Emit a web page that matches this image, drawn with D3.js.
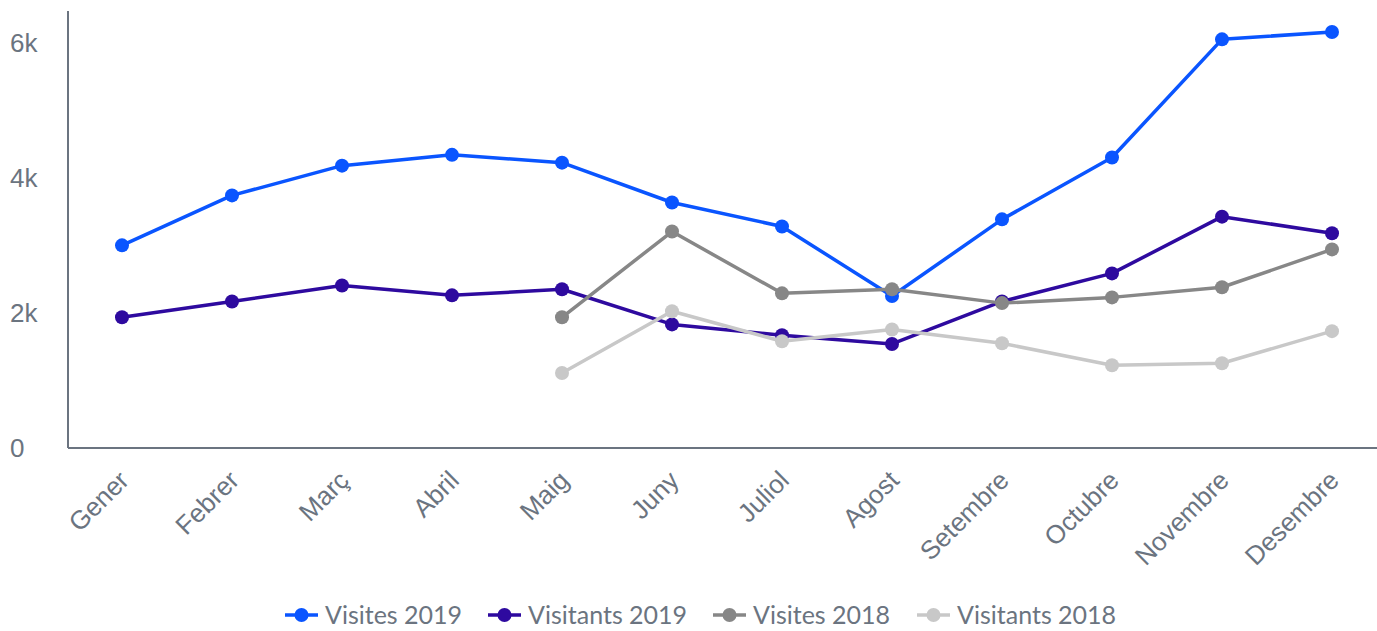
<!DOCTYPE html>
<html>
<head>
<meta charset="utf-8">
<script src="https://cdn.jsdelivr.net/npm/d3@7"></script>
<style>
  html, body { margin: 0; padding: 0; background: #fff; }
  svg { display: block; font-family: Lato, "Open Sans", sans-serif; }
</style>
</head>
<body>
<svg id="chart" width="1377" height="631"></svg>
<script>
const months = ["Gener","Febrer","Març","Abril","Maig","Juny","Juliol","Agost","Setembre","Octubre","Novembre","Desembre"];
const visites2019   = [3000, 3740, 4180, 4340, 4225, 3635, 3280, 2250, 3385, 4300, 6050, 6160];
const visitants2019 = [1935, 2170, 2405, 2260, 2350, 1830, 1670, 1540, 2170, 2585, 3425, 3180];
const visites2018   = [null, null, null, null, 1935, 3205, 2290, 2350, 2145, 2230, 2380, 2940];
const visitants2018 = [null, null, null, null, 1110, 2025, 1580, 1755, 1550, 1225, 1255, 1730];
const seriesNames = ["Visites 2019", "Visitants 2019", "Visites 2018", "Visitants 2018"];
const seriesColors = ["#0a55ff", "#2e0a9f", "#878787", "#c8c8c8"];
const yTicks = [0, 2000, 4000, 6000];
const yTickLabels = ["0", "2k", "4k", "6k"];

const series = [visites2019, visitants2019, visites2018, visitants2018];
const svg = d3.select("#chart");
const textColor = "#6b7480";

const x = d3.scalePoint().domain(months).range([122, 1332]);
const y = d3.scaleLinear().domain([0, 6470]).range([448, 11]);

// Y axis
const yAxis = svg.append("g").attr("transform", "translate(68,0)")
  .call(d3.axisLeft(y).tickValues(yTicks).tickFormat((d, i) => yTickLabels[i]).tickSize(0).tickPadding(28));
yAxis.select(".domain").attr("stroke", "#6b7480").attr("stroke-width", 2).attr("d", `M0,${y.range()[1]}V${y(0)}`);
yAxis.selectAll("text").attr("fill", textColor).style("font-size", "26px").attr("text-anchor", "start").attr("x", -58);

// X axis
const xAxis = svg.append("g").attr("transform", `translate(0,${y(0)})`)
  .call(d3.axisBottom(x).tickSize(0).tickPadding(0));
xAxis.select(".domain").attr("stroke", "#6b7480").attr("stroke-width", 2).attr("d", "M68,0H1377");
xAxis.selectAll(".tick text")
  .attr("fill", textColor)
  .style("font-size", "26px")
  .attr("text-anchor", "end")
  .attr("y", 0).attr("dy", 0)
  .attr("transform", "translate(8,34) rotate(-45)");

// Lines
const line = d3.line()
  .defined(d => d != null)
  .x((d, i) => x(months[i]))
  .y(d => y(d));

series.forEach((data, si) => {
  const g = svg.append("g");
  g.append("path")
    .attr("d", line(data))
    .attr("fill", "none")
    .attr("stroke", seriesColors[si])
    .attr("stroke-width", 3.5)
    .attr("stroke-linejoin", "round");
  g.selectAll("circle")
    .data(data.map((v, i) => ({v, i})).filter(d => d.v != null))
    .join("circle")
    .attr("cx", d => x(months[d.i]))
    .attr("cy", d => y(d.v))
    .attr("r", 7)
    .attr("fill", seriesColors[si]);
});

// Legend
const legendX = [285, 488, 713, 917];
const lg = svg.append("g").attr("transform", "translate(0,615)");
seriesNames.forEach((name, i) => {
  const item = lg.append("g").attr("transform", `translate(${legendX[i]},0)`);
  item.append("line").attr("x1", 0).attr("x2", 33).attr("y1", 0).attr("y2", 0)
    .attr("stroke", seriesColors[i]).attr("stroke-width", 3.5);
  item.append("circle").attr("cx", 16.5).attr("cy", 0).attr("r", 7).attr("fill", seriesColors[i]);
  item.append("text").attr("x", 40).attr("y", 0).attr("dy", "0.35em")
    .attr("fill", textColor).style("font-size", "25px").text(name);
});
</script>
</body>
</html>
